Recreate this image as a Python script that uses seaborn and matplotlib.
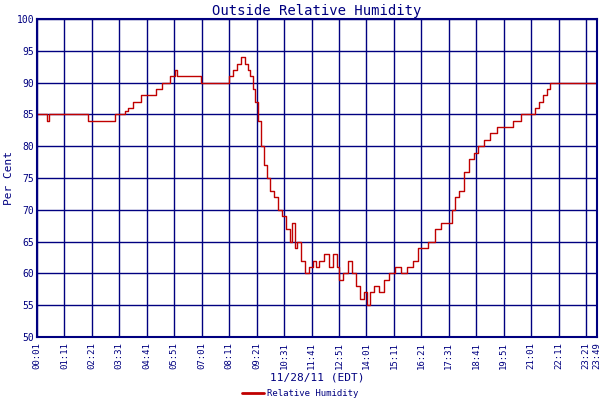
import pandas as pd
import matplotlib
matplotlib.use("Agg")
import matplotlib.pyplot as plt
import seaborn as sns

sns.set_style("white")
plt.rcParams['font.family'] = ['DejaVu Sans Mono']

NAVY = "#000080"
RED = "#c00000"

times = ["00:01", "00:27", "00:31", "02:10", "03:20", "03:45", "03:52", "04:05",
         "04:25", "05:05", "05:20", "05:40", "05:53", "05:57", "06:50", "07:00",
         "08:00", "08:10", "08:20", "08:30", "08:40", "08:52", "09:00", "09:05",
         "09:12", "09:18", "09:25", "09:32", "09:40", "09:48", "09:55", "10:05",
         "10:15", "10:25", "10:35", "10:45", "10:50", "10:58", "11:05", "11:15",
         "11:25", "11:35", "11:45", "11:52", "12:00", "12:12", "12:25", "12:35",
         "12:45", "12:52", "13:02", "13:15", "13:25", "13:35", "13:45", "13:55",
         "14:02", "14:10", "14:20", "14:32", "14:45", "14:58", "15:15", "15:30",
         "15:45", "16:00", "16:12", "16:25", "16:38", "16:55", "17:10", "17:25",
         "17:38", "17:48", "17:58", "18:10", "18:22", "18:35", "18:45", "19:00",
         "19:15", "19:35", "19:55", "20:15", "20:35", "20:55", "21:10", "21:22",
         "21:32", "21:42", "21:50", "23:49"]
humidity = [85, 84, 85, 84, 85, 85.5, 86, 87,
            88, 89, 90, 91, 92, 91, 91, 90,
            90, 91, 92, 93, 94, 93, 92, 91,
            89, 87, 84, 80, 77, 75, 73, 72,
            70, 69, 67, 65, 68, 64, 65, 62,
            60, 61, 62, 61, 62, 63, 61, 63,
            61, 59, 60, 62, 60, 58, 56, 57,
            55, 57, 58, 57, 59, 60, 61, 60,
            61, 62, 64, 64, 65, 67, 68, 68,
            70, 72, 73, 76, 78, 79, 80, 81,
            82, 83, 83, 84, 85, 85, 86, 87,
            88, 89, 90, 90]

def to_min(t):
    h, m = t.split(":")
    return int(h) * 60 + int(m)

df = pd.DataFrame({"minute": [to_min(t) for t in times], "rh": humidity})

tick_labels = ["00:01", "01:11", "02:21", "03:31", "04:41", "05:51", "07:01",
               "08:11", "09:21", "10:31", "11:41", "12:51", "14:01", "15:11",
               "16:21", "17:31", "18:41", "19:51", "21:01", "22:11", "23:21", "23:49"]

fig = plt.figure(figsize=(6, 4), dpi=100)
ax = fig.add_axes([37/600, 63/400, 560/600, 318/400])

sns.lineplot(data=df, x="minute", y="rh", ax=ax, color=RED, linewidth=1.0,
             drawstyle="steps-post", legend=False)

ax.set_xlim(1, 1429)
ax.set_ylim(50, 100)
ax.set_xticks([to_min(t) for t in tick_labels])
ax.set_xticklabels(tick_labels, rotation=90, fontsize=6.5, color=NAVY)
ax.set_yticks(range(50, 101, 5))
ax.tick_params(axis="y", labelsize=7, colors=NAVY, length=0, pad=2)
ax.tick_params(axis="x", colors=NAVY, length=0)
ax.grid(True, color=NAVY, linewidth=1)
for s in ax.spines.values():
    s.set_color(NAVY)
    s.set_linewidth(1.5)
ax.set_xlabel("11/28/11 (EDT)", color=NAVY, fontsize=8, labelpad=3)
ax.set_ylabel("Per Cent", color=NAVY, fontsize=8, labelpad=2)
ax.set_title("Outside Relative Humidity", color=NAVY, fontsize=10, pad=3)
handle = plt.Line2D([], [], color=RED, linewidth=2)
fig.legend([handle], ["Relative Humidity"], loc="center", bbox_to_anchor=(0.5, 6/400),
           frameon=False, fontsize=6.5, labelcolor=NAVY, handlelength=2.5,
           borderpad=0, handletextpad=0.3)

fig.savefig("out.png", dpi=100)
